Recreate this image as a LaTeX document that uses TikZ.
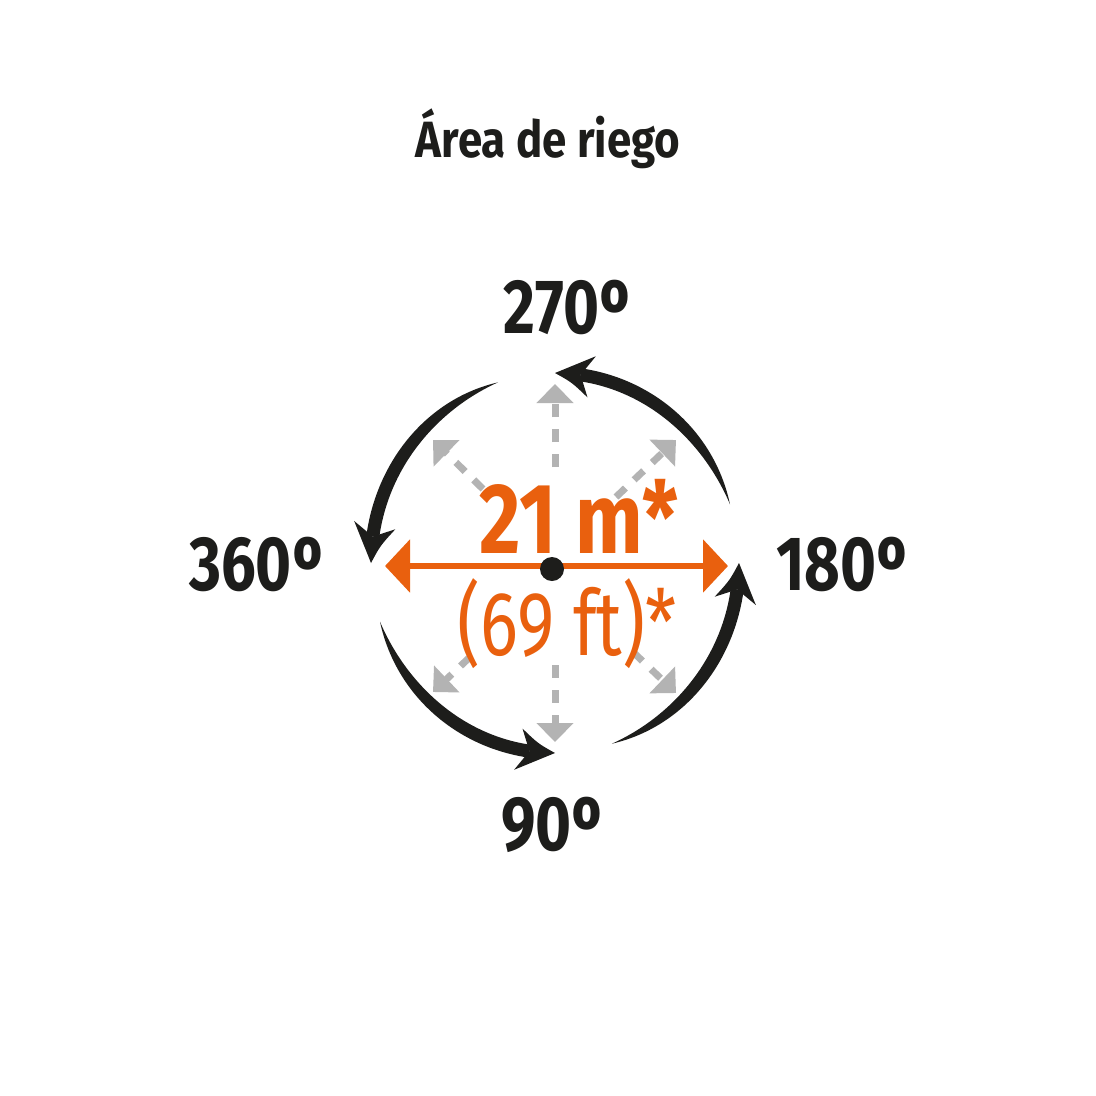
\documentclass[tikz,border=0pt]{standalone}
\usepackage{fontspec}
\usepackage{trimclip}
\setmainfont{Fira Sans}
\usetikzlibrary{arrows.meta}
\definecolor{ink}{HTML}{1D1D1B}
\definecolor{orng}{HTML}{E9600E}
\definecolor{lgray}{HTML}{B3B3B3}
\tikzset{
  plain/.style={inner sep=0pt, anchor=base},
  titlelbl/.style={plain, text=ink, font=\fontsize{51}{51}\selectfont\bfseries},
  deglbl/.style={plain, text=ink, font=\fontsize{77}{77}\selectfont\bfseries},
  bigorange/.style={plain, text=orng, font=\fontsize{100}{100}\selectfont\bfseries},
  midorange/.style={plain, text=orng, font=\fontsize{91}{91}\selectfont},
  grayray/.style={draw=lgray, line width=7pt, dash pattern=on 13pt off 12pt, -{Triangle[length=19pt,width=36pt]}},
  orangeray/.style={draw=orng, line width=6pt, {Triangle[length=25pt,width=52pt]}-{Triangle[length=25pt,width=52pt]}},
}
\newcommand\degsign{\raisebox{16pt}{\clipbox{0pt 16pt 0pt 0pt}{º}}}
\newcommand\ex[2]{{555+(184+#2)*cos(#1)},{563+(190+#2)*sin(#1)}}
\newcommand\swirl[1]{%
  \fill[ink] plot[domain=0:1,samples=70,variable=\t]
      ({555+(184+6.5*sin(90*\t)*(2-sin(90*\t)))*cos(#1+72-64*\t)},{563+(190+6.5*sin(90*\t)*(2-sin(90*\t)))*sin(#1+72-64*\t)})
    -- plot[domain=1:0,samples=70,variable=\t]
      ({555+(184-6.5*sin(90*\t)*(2-sin(90*\t)))*cos(#1+72-64*\t)},{563+(190-6.5*sin(90*\t)*(2-sin(90*\t)))*sin(#1+72-64*\t)})
    -- cycle;
  \fill[ink] (\ex{#1}{0})
    .. controls (\ex{#1+5.5}{8.5}) .. (\ex{#1+11.5}{21})
    -- (\ex{#1+8}{0})
    -- (\ex{#1+11.5}{-21})
    .. controls (\ex{#1+5.5}{-8.5}) .. (\ex{#1}{0})
    -- cycle;
}
\begin{document}
\begin{tikzpicture}[x=1pt,y=-1pt]
\fill[white] (0,0) rectangle (1096,1096);
\useasboundingbox (0,0) rectangle (1096,1096);

\node[titlelbl] (title) at (548,157) {\scalebox{0.86}[1]{Área de riego}};

\node[deglbl] (d270) at (567,333) {\scalebox{0.8}[1]{270\degsign}};
\node[deglbl] (d360) at (256,590) {\scalebox{0.8}[1]{360\degsign}};
\node[deglbl] (d180) at (842,590) {\scalebox{0.8}[1]{180\degsign}};
\node[deglbl] (d90)  at (552,850) {\scalebox{0.8}[1]{90\degsign}};

% gray rays
\coordinate (uS) at (555,467); \coordinate (uT) at (555,384);
\coordinate (dS) at (555,665); \coordinate (dT) at (555,742);
\coordinate (tlS) at (483,489); \coordinate (tlT) at (433,440);
\coordinate (trS) at (616,497); \coordinate (trT) at (676,440);
\coordinate (blS) at (470,657); \coordinate (blT) at (433,692);
\coordinate (brS) at (633,652); \coordinate (brT) at (676,693);
\draw[grayray] (uS) -- (uT);
\draw[grayray] (dS) -- (dT);
\draw[grayray] (tlS) -- (tlT);
\draw[grayray] (trS) -- (trT);
\draw[grayray] (blS) -- (blT);
\draw[grayray] (brS) -- (brT);

% black swirl arrows
\swirl{-90}
\swirl{180}
\swirl{90}
\swirl{0}

% texts
\node[bigorange] (d21) at (579,553) {\scalebox{0.8}[1]{21 m*}};
\node[midorange] (d69) at (567,655) {\scalebox{0.78}[1]{(69 ft)*}};

% orange diameter
\coordinate (oL) at (385,566);
\coordinate (oR) at (728,566);
\draw[orangeray] (oL) -- (oR);
\node[circle, fill=ink, inner sep=0pt, minimum size=24pt] (hub) at (552,569) {};
\end{tikzpicture}
\end{document}
